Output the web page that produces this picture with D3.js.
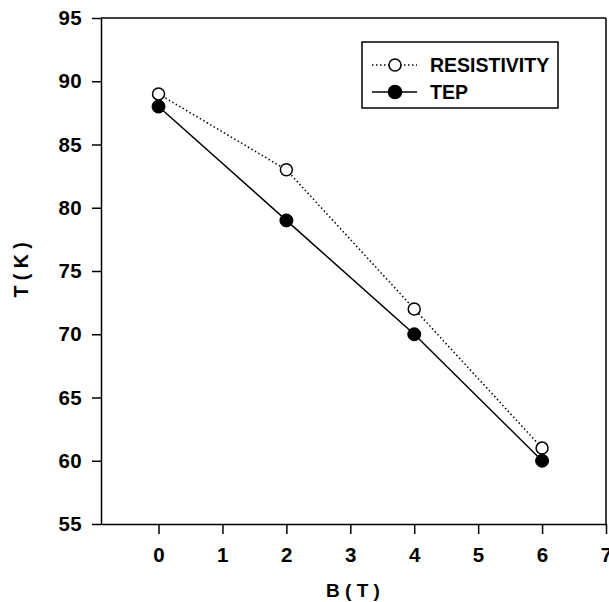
<!DOCTYPE html>
<html><head><meta charset="utf-8">
<script src="https://cdn.jsdelivr.net/npm/d3@7"></script>
<style>body{margin:0;background:#fff}svg{display:block}text{font-family:"Liberation Sans",Arial,sans-serif;font-weight:bold;fill:#000}</style>
</head><body><svg id="c" width="609" height="602"></svg>
<script>
const bValues = [0, 2, 4, 6];
const resistivity = [89, 83, 72, 61];
const tep = [88, 79, 70, 60];
const xTicks = [0, 1, 2, 3, 4, 5, 6, 7];
const yTicks = [55, 60, 65, 70, 75, 80, 85, 90, 95];
const seriesNames = ["RESISTIVITY", "TEP"];

const svg = d3.select("#c");
const L = 101, R = 606, T = 18, B = 524;
const x = d3.scaleLinear().domain([-0.9, 7]).range([L, R]);
const y = d3.scaleLinear().domain([55, 95]).range([B, T]);

const fs = 20.5;
const gx = svg.append("g").attr("transform", `translate(0,${B})`)
  .call(d3.axisBottom(x).tickValues(xTicks).tickSize(10).tickPadding(13).tickSizeOuter(0));
const gy = svg.append("g").attr("transform", `translate(${L},0)`)
  .call(d3.axisLeft(y).tickValues(yTicks).tickSize(9).tickPadding(10).tickSizeOuter(0));
[gx, gy].forEach(g => {
  g.attr("font-size", fs).attr("font-family", null);
  g.selectAll("path,line").attr("stroke", "#000").attr("stroke-width", 1.5);
  g.selectAll("text").style("font-size", fs + "px").style("font-family", '"Liberation Sans",Arial,sans-serif').style("font-weight", "bold").style("letter-spacing", "0.3px");
});
// frame top & right
svg.append("line").attr("x1", L).attr("x2", R).attr("y1", T).attr("y2", T).attr("stroke", "#000").attr("stroke-width", 1.5);
svg.append("line").attr("x1", R).attr("x2", R).attr("y1", T).attr("y2", B).attr("stroke", "#000").attr("stroke-width", 1.5);

svg.append("text").attr("x", 353).attr("y", 597).attr("text-anchor", "middle").style("font-size", "19px").text("B ( T )");
svg.append("text").attr("transform", "translate(28,270) rotate(-90)").attr("text-anchor", "middle").style("font-size", "19.5px").text("T ( K )");

const line = d3.line().x(d => x(d[0])).y(d => y(d[1]));
const resPts = bValues.map((b, i) => [b, resistivity[i]]);
const tepPts = bValues.map((b, i) => [b, tep[i]]);

svg.append("path").attr("d", line(resPts)).attr("fill", "none").attr("stroke", "#000").attr("stroke-width", 1.5).attr("stroke-dasharray", "1.5,2.5");
svg.append("path").attr("d", line(tepPts)).attr("fill", "none").attr("stroke", "#000").attr("stroke-width", 1.5);

svg.selectAll(".res").data(resPts).join("circle").attr("cx", d => x(d[0])).attr("cy", d => y(d[1])).attr("r", 6).attr("fill", "#fff").attr("stroke", "#000").attr("stroke-width", 1.5);
svg.selectAll(".tep").data(tepPts).join("circle").attr("cx", d => x(d[0])).attr("cy", d => y(d[1])).attr("r", 6.5).attr("fill", "#000").attr("stroke", "#000").attr("stroke-width", 1);

// legend
const lg = svg.append("g");
lg.append("rect").attr("x", 362).attr("y", 42).attr("width", 196).attr("height", 66).attr("fill", "#fff").attr("stroke", "#000").attr("stroke-width", 1.5);
const rows = [{y: 65, dash: "1.5,2.5", fill: "#fff", r: 6}, {y: 92, dash: null, fill: "#000", r: 6.5}];
rows.forEach((r, i) => {
  lg.append("line").attr("x1", 372).attr("x2", 417).attr("y1", r.y).attr("y2", r.y).attr("stroke", "#000").attr("stroke-width", 1.5).attr("stroke-dasharray", r.dash);
  lg.append("circle").attr("cx", 395).attr("cy", r.y).attr("r", r.r).attr("fill", r.fill).attr("stroke", "#000").attr("stroke-width", 1.5);
  lg.append("text").attr("x", 430).attr("y", r.y + 7).style("font-size", "19.5px").text(seriesNames[i]);
});
</script></body></html>
